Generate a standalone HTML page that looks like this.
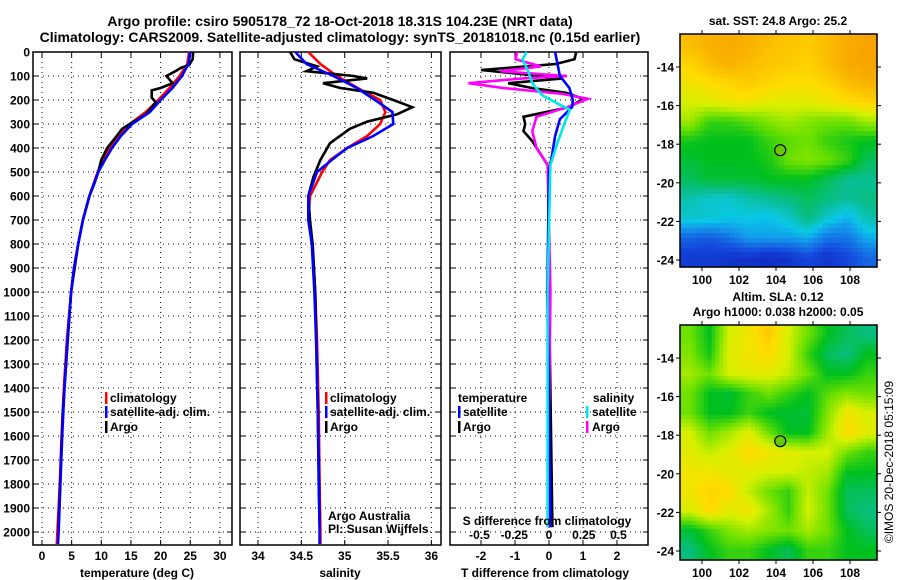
<!DOCTYPE html>
<html><head><meta charset="utf-8"><style>
html,body{margin:0;padding:0;background:#fff;}
svg{display:block;font-family:"Liberation Sans",Arial,sans-serif;}
.tk{font-size:12px;font-weight:bold;fill:#000;}
.lg{font-size:12px;font-weight:bold;fill:#000;}
</style></head><body>
<svg id="chart" width="900" height="580" viewBox="0 0 900 580">
<text x="340" y="26" text-anchor="middle" font-size="14" font-weight="bold">Argo profile: csiro 5905178_72 18-Oct-2018 18.31S 104.23E (NRT data)</text>
<text x="340" y="42" text-anchor="middle" font-size="14" font-weight="bold">Climatology: CARS2009. Satellite-adjusted climatology: synTS_20181018.nc (0.15d earlier)</text>
<g id="layer"></g>
<text transform="translate(893,462) rotate(-90)" text-anchor="middle" font-size="12">©IMOS 20-Dec-2018 05:15:09</text>
</svg>
<script>
// ---------- data ----------
const depthTicks = [0,100,200,300,400,500,600,700,800,900,1000,1100,1200,1300,1400,1500,1600,1700,1800,1900,2000];
const tempTicks = [0,5,10,15,20,25,30];
const salTicks = [34,34.5,35,35.5,36];
const salTickLabels = ["34","34.5","35","35.5","36"];
const tdTicks = [-2,-1,0,1,2];
const sdTicks = [-0.5,-0.25,0,0.25,0.5];
const sdTickLabels = ["-0.5","-0.25","0","0.25","0.5"];

const tDepth = [0,50,100,150,200,250,300,350,400,450,500,600,700,800,900,1000,1200,1400,1600,1800,2000,2050];
const tClim = [24.8,24.5,23.2,21.5,19.6,17.5,14.8,12.8,11.3,10.2,9.4,8.0,6.9,6.1,5.4,4.9,4.2,3.7,3.3,3.0,2.6,2.5];
const tSat = [25.0,24.7,23.6,22.0,20.0,18.2,15.2,13.3,11.8,10.6,9.5,8.0,6.9,6.1,5.4,4.9,4.3,3.8,3.4,3.1,2.8,2.7];
const tArgoDepth = [0,30,55,65,80,100,115,130,150,160,190,210,230,260,300,320,350,400,450,500,550,600,700,800,1000,1500,1980];
const tArgo = [25.5,25.4,24.8,23.5,22.5,21.0,21.5,22.0,20.0,18.5,18.5,19.2,18.5,17.5,14.8,13.5,12.6,11.0,10.0,9.5,8.8,8.0,6.9,6.1,4.9,3.5,2.8];

const sDepth = [0,50,100,150,200,250,300,350,400,450,500,600,700,800,1000,1200,1500,1800,2000,2050];
const sClim = [34.58,34.72,34.91,35.15,35.41,35.47,35.41,35.26,35.03,34.83,34.74,34.60,34.58,34.63,34.66,34.68,34.70,34.71,34.72,34.72];
const sSat = [34.43,34.56,34.87,35.14,35.35,35.55,35.56,35.33,35.03,34.85,34.68,34.58,34.58,34.62,34.65,34.67,34.69,34.70,34.71,34.71];
const sArgoDepth = [0,30,60,80,100,110,130,150,170,200,230,260,290,320,380,450,520,600,700,800,1000,1500,1960];
const sArgo = [34.37,34.42,34.68,34.56,35.1,35.26,34.75,34.95,35.33,35.56,35.78,35.6,35.26,35.06,34.83,34.72,34.64,34.58,34.60,34.63,34.66,34.69,34.71];

const dTcDepth = [0,30,50,75,90,110,130,150,170,195,230,270,300,330,370,420,480,600,1000,1500,1980];
const dTc = [0.8,0.75,0.2,-2.0,-0.95,0.4,-1.2,-0.5,0.5,1.0,0.6,-0.75,-0.7,-0.75,-0.5,-0.27,0,-0.02,0,0.05,0.1];
const dTsDepth = [0,50,100,150,200,230,280,350,420,500,1000,1500,1980];
const dTs = [0.18,0.25,0.32,0.6,0.7,0.68,0.32,0.18,0.1,0,-0.05,0,0.05];
const dScDepth = [0,30,60,80,100,110,130,150,175,195,230,270,330,400,470,1000,1500,1980];
const dSc = [-0.23,-0.24,-0.06,-0.35,0.13,-0.19,-0.58,-0.33,0.1,0.28,0.13,-0.09,-0.12,-0.09,-0.01,0.01,0,0];
const dSsDepth = [0,30,80,130,180,220,240,300,380,470,1000,1500,1980];
const dSs = [-0.16,-0.19,-0.15,-0.12,-0.05,0.08,0.15,0.11,0.06,0.01,-0.01,-0.01,-0.01];

const lonTicks = [100,102,104,106,108];
const latTicks = [-14,-16,-18,-20,-22,-24];
const argoLon = 104.23, argoLat = -18.31;
const sstGrid = [
[0.85,0.88,0.9,0.88,0.85,0.83,0.82,0.85,0.9,0.92],
[0.8,0.85,0.88,0.85,0.83,0.82,0.8,0.85,0.9,0.93],
[0.75,0.78,0.8,0.82,0.8,0.78,0.78,0.8,0.85,0.88],
[0.7,0.72,0.75,0.75,0.72,0.72,0.72,0.75,0.78,0.8],
[0.65,0.55,0.55,0.58,0.62,0.65,0.62,0.6,0.6,0.65],
[0.52,0.5,0.5,0.5,0.55,0.58,0.6,0.55,0.52,0.5],
[0.48,0.5,0.5,0.5,0.52,0.6,0.62,0.6,0.55,0.45],
[0.45,0.48,0.48,0.48,0.5,0.5,0.5,0.45,0.4,0.4],
[0.38,0.35,0.35,0.38,0.4,0.42,0.45,0.42,0.4,0.42],
[0.35,0.35,0.33,0.33,0.32,0.35,0.42,0.35,0.3,0.38],
[0.2,0.18,0.22,0.28,0.28,0.28,0.3,0.22,0.22,0.3],
[0.12,0.12,0.1,0.1,0.08,0.1,0.15,0.1,0.15,0.2]];
const slaGrid = [
[0.6,0.5,0.7,0.75,0.82,0.7,0.6,0.5,0.45,0.42],
[0.62,0.52,0.72,0.75,0.78,0.7,0.55,0.45,0.42,0.5],
[0.65,0.6,0.7,0.72,0.72,0.68,0.6,0.5,0.5,0.55],
[0.6,0.5,0.48,0.55,0.6,0.55,0.5,0.58,0.62,0.6],
[0.6,0.5,0.5,0.55,0.5,0.48,0.48,0.62,0.75,0.7],
[0.7,0.6,0.65,0.72,0.6,0.5,0.5,0.65,0.78,0.72],
[0.72,0.68,0.72,0.78,0.75,0.72,0.7,0.7,0.6,0.55],
[0.75,0.75,0.72,0.72,0.7,0.7,0.68,0.65,0.5,0.5],
[0.75,0.8,0.78,0.68,0.6,0.55,0.68,0.6,0.45,0.45],
[0.7,0.78,0.72,0.75,0.65,0.55,0.7,0.6,0.45,0.42],
[0.48,0.55,0.62,0.65,0.62,0.6,0.65,0.6,0.5,0.45],
[0.42,0.5,0.55,0.55,0.5,0.45,0.55,0.55,0.5,0.5]];

// ---------- helpers ----------
const NS = "http://www.w3.org/2000/svg";
const layer = document.getElementById("layer");
function mk(tag, attrs, parent){
  const e = document.createElementNS(NS, tag);
  for (const k in attrs) e.setAttribute(k, attrs[k]);
  (parent||layer).appendChild(e);
  return e;
}
const Y0 = 52, YS = 0.24, YB = 545;
function yD(d){ return Y0 + d*YS; }
function lin(d0,d1,r0,r1){ return v => r0 + (v-d0)*(r1-r0)/(d1-d0); }
const xT = lin(0,30,42,219.9);
const xS = lin(34,36,258,431.4);
const xTd = lin(-2,2,481,617);
const xSd = lin(-0.5,0.5,479.5,618.5);

function panel(name, x0, x1, xticks, xf, labels, showY){
  const g = mk("g", {});
  
  
  depthTicks.forEach(d => {
    const y = yD(d);
    const l = mk("line", {x1:x0, x2:x1, y1:y, y2:y, stroke:"#000", "stroke-width":1, "stroke-dasharray":"1,4"}, g);
    
    
    mk("line", {x1:x0, x2:x0+5, y1:y, y2:y, stroke:"#000"}, g);
    mk("line", {x1:x1-5, x2:x1, y1:y, y2:y, stroke:"#000"}, g);
    if (showY){
      const t = mk("text", {x:30, y:y+4.5, "text-anchor":"end", class:"tk"}, g);
      t.textContent = d;
      
      
    }
  });
  xticks.forEach((v,i) => {
    const x = xf(v);
    const l = mk("line", {x1:x, x2:x, y1:Y0, y2:YB, stroke:"#000", "stroke-width":1, "stroke-dasharray":"1,4"}, g);
    
    
    mk("line", {x1:x, x2:x, y1:YB-5, y2:YB, stroke:"#000"}, g);
    mk("line", {x1:x, x2:x, y1:Y0, y2:Y0+5, stroke:"#000"}, g);
    if (labels){
      const t = mk("text", {x:x, y:560, "text-anchor":"middle", class:"tk"}, g);
      t.textContent = labels[i];
      
      
    }
  });
  const r = mk("rect", {x:x0, y:Y0, width:x1-x0, height:YB-Y0, fill:"none", stroke:"#000", "stroke-width":1.5}, g);
  
  
  return g;
}
function series(name, depths, vals, xf, color){
  const pts = depths.map((d,i) => xf(vals[i]).toFixed(1)+","+yD(d).toFixed(1)).join(" ");
  const p = mk("polyline", {points:pts, fill:"none", stroke:color, "stroke-width":2.6, "stroke-linejoin":"miter"});
  
  
}
function text(name, x, y, s, anchor, cls, extra){
  const t = mk("text", Object.assign({x:x, y:y, "text-anchor":anchor||"start", class:cls||"lg"}, extra||{}));
  t.textContent = s;
  
  
  return t;
}
function legendItem(name, x, y, color, label){
  const r = mk("rect", {x:x, y:y-10, width:2.5, height:12, fill:color});
  
  
  if (label) text(name, x+5, y, label);
}

// ---------- temperature panel ----------
panel("temperature-panel", 33, 232, tempTicks, xT, tempTicks.map(String), true);
series("temperature-climatology", tDepth, tClim, xT, "#ff0000");
series("temperature-argo", tArgoDepth, tArgo, xT, "#000000");
series("temperature-satellite-adj", tDepth, tSat, xT, "#0000ff");
text("temperature-axis-title", 137, 577, "temperature (deg C)", "middle");
legendItem("legend-climatology", 105, 402, "#ff0000", "climatology");
legendItem("legend-satellite-adj", 105, 416, "#0000ff", "satellite-adj. clim.");
legendItem("legend-argo", 105, 431, "#000000", "Argo");

// ---------- salinity panel ----------
panel("salinity-panel", 240, 441, salTicks, xS, salTickLabels, false);
series("salinity-climatology", sDepth, sClim, xS, "#ff0000");
series("salinity-argo", sArgoDepth, sArgo, xS, "#000000");
series("salinity-satellite-adj", sDepth, sSat, xS, "#0000ff");
text("salinity-axis-title", 340, 577, "salinity", "middle");
legendItem("salinity-legend-climatology", 325, 402, "#ff0000", "climatology");
legendItem("salinity-legend-satellite-adj", 325, 416, "#0000ff", "satellite-adj. clim.");
legendItem("salinity-legend-argo", 325, 431, "#000000", "Argo");
text("argo-australia-credit", 328, 520, "Argo Australia", "start", "", {"font-size":12, fill:"#222"});
text("pi-credit", 328, 533, "PI: Susan Wijffels", "start", "", {"font-size":12, fill:"#222"});

// ---------- difference panel ----------
panel("difference-panel", 450, 648, tdTicks, xTd, tdTicks.map(String), false);
series("t-diff-argo", dTcDepth, dTc, xTd, "#000000");
series("s-diff-argo", dScDepth, dSc, xSd, "#ff00ff");
series("t-diff-satellite", dTsDepth, dTs, xTd, "#0000ff");
series("s-diff-satellite", dSsDepth, dSs, xSd, "#00e8e8");
text("t-diff-axis-title", 545, 577, "T difference from climatology", "middle");
text("s-diff-axis-title", 547, 525, "S difference from climatology", "middle");
sdTicks.forEach((v,i) => {
  text("s-diff-tick-label", xSd(v), 539, sdTickLabels[i], "middle", "tk");
});
text("legend-temperature-heading", 458, 402, "temperature");
text("legend-salinity-heading", 593, 402, "salinity");
legendItem("diff-legend-t-satellite", 458, 416, "#0000ff", "satellite");
legendItem("diff-legend-t-argo", 458, 431, "#000000", "Argo");
legendItem("diff-legend-s-satellite", 586, 416, "#00e8e8", "");
legendItem("diff-legend-s-argo", 586, 431, "#ff00ff", "");
text("diff-legend-s-satellite", 592, 416, "satellite");
text("diff-legend-s-argo", 592, 431, "Argo");

// ---------- maps ----------
const stops = [[0,[10,20,170]],[0.15,[20,70,220]],[0.27,[20,150,235]],[0.33,[10,200,230]],[0.4,[10,190,150]],[0.5,[0,192,30]],[0.6,[110,225,0]],[0.7,[215,240,0]],[0.78,[255,220,0]],[0.87,[250,180,0]],[1,[245,140,0]]];
function cmap(v){
  for (let i=1;i<stops.length;i++){
    if (v<=stops[i][0]){
      const a=stops[i-1], b=stops[i], f=(v-a[0])/(b[0]-a[0]);
      const c=a[1].map((q,k)=>Math.round(q+(b[1][k]-q)*f));
      return "rgb("+c.join(",")+")";
    }
  }
  return "rgb(245,140,0)";
}
function sample(grid, fr, fc){
  const R=grid.length-1, C=grid[0].length-1;
  const r=Math.max(0,Math.min(R,fr)), c=Math.max(0,Math.min(C,fc));
  const r0=Math.floor(r), c0=Math.floor(c), r1=Math.min(R,r0+1), c1=Math.min(C,c0+1);
  const a=r-r0, b=c-c0;
  return grid[r0][c0]*(1-a)*(1-b)+grid[r0][c1]*(1-a)*b+grid[r1][c0]*a*(1-b)+grid[r1][c1]*a*b;
}
function map(name, x0, x1, y0, y1, lat14y, grid, sub){
  const g = mk("g", {});
  
  
  const xL = lin(100,108,702,850);
  const yL = lin(-14,-24,lat14y,lat14y+193);
  const rows=grid.length*sub, cols=grid[0].length*sub, cw=(x1-x0)/cols, ch=(y1-y0)/rows;
  for (let r=0;r<rows;r++) for (let c=0;c<cols;c++){
    const v = sample(grid, (r+0.5)/sub-0.5, (c+0.5)/sub-0.5);
    const cell = mk("rect",{x:(x0+c*cw).toFixed(1), y:(y0+r*ch).toFixed(1), width:(cw+0.6).toFixed(1), height:(ch+0.6).toFixed(1), fill:cmap(v)}, g);
    
    
  }
  const fr = mk("rect",{x:x0,y:y0,width:x1-x0,height:y1-y0,fill:"none",stroke:"#000","stroke-width":1.5}, g);
  
  
  lonTicks.forEach(v=>{
    const x=xL(v);
    mk("line",{x1:x,x2:x,y1:y1,y2:y1+4,stroke:"#000"},g);
    mk("line",{x1:x,x2:x,y1:y0-4,y2:y0,stroke:"#000"},g);
    const t=mk("text",{x:x,y:y1+17,"text-anchor":"middle",class:"tk"},g);
    t.textContent=v;
    
    
  });
  latTicks.forEach(v=>{
    const y=yL(v);
    mk("line",{x1:x0-4,x2:x0,y1:y,y2:y,stroke:"#000"},g);
    mk("line",{x1:x1,x2:x1+4,y1:y,y2:y,stroke:"#000"},g);
    const t=mk("text",{x:x0-6,y:y+4.5,"text-anchor":"end",class:"tk"},g);
    t.textContent=v;
    
    
  });
  const c = mk("circle",{cx:xL(argoLon),cy:yL(argoLat),r:5.5,fill:"#66cc00",stroke:"#000","stroke-width":1.2},g);
  
  
}
map("sst-map", 680, 877, 34, 267, 67, sstGrid, 4);
text("sst-map-title", 778, 25, "sat. SST: 24.8 Argo: 25.2", "middle");
map("sla-map", 680, 877, 325, 560, 358, slaGrid, 5);
text("sla-map-title", 778, 301, "Altim. SLA: 0.12", "middle");
text("sla-map-subtitle", 778, 316, "Argo h1000: 0.038 h2000: 0.05", "middle");
</script>
</body></html>
